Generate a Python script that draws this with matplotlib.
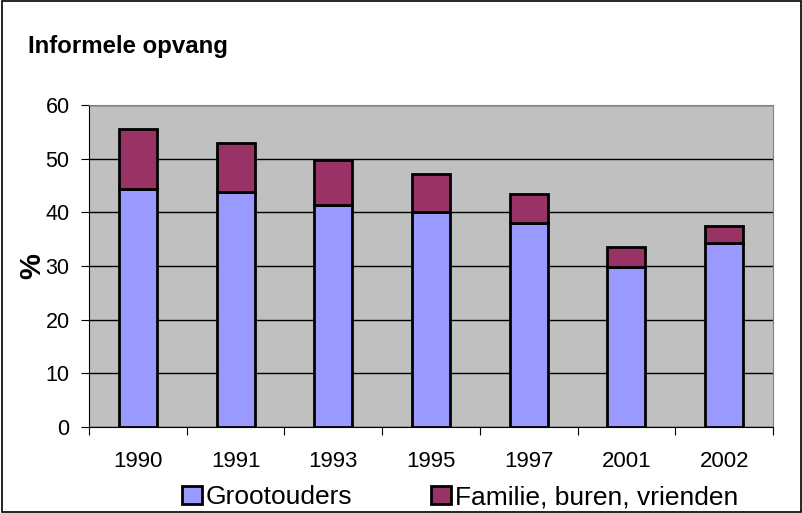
import matplotlib.pyplot as plt
import numpy as np

# Data
jaren = ["1990", "1991", "1993", "1995", "1997", "2001", "2002"]
grootouders = [44.4, 43.7, 41.4, 40.0, 38.0, 29.8, 34.3]
familie = [11.1, 9.2, 8.3, 7.1, 5.5, 3.7, 3.1]
yticks = [0, 10, 20, 30, 40, 50, 60]

plt.rcParams["font.family"] = ["Liberation Sans", "DejaVu Sans"]

fig = plt.figure(figsize=(8.03, 5.13), dpi=100)
fig.patch.set_facecolor("white")
# Figure border
fig.add_artist(plt.Rectangle((0.002, 0.002), 0.996, 0.996, transform=fig.transFigure,
                             fill=False, edgecolor="black", linewidth=1.2))

ax = fig.add_axes([89 / 803, 1 - 427 / 513, (773 - 89) / 803, (427 - 105) / 513])
ax.set_facecolor("#c0c0c0")

x = np.arange(len(jaren))
breedte = 0.39
ax.bar(x, grootouders, breedte, color="#9999ff", edgecolor="black", linewidth=2,
       label="Grootouders", zorder=3)
ax.bar(x, familie, breedte, bottom=grootouders, color="#993366", edgecolor="black",
       linewidth=2, label="Familie, buren, vrienden", zorder=3)

ax.set_xlim(-0.5, len(jaren) - 0.5)
ax.set_ylim(0, 60)
ax.set_yticks(yticks)
ax.set_yticklabels([str(v) for v in yticks], fontsize=15.5)
ax.yaxis.grid(True, color="black", linewidth=1, zorder=1)

# x tick marks between categories, labels centred
ax.set_xticks(np.arange(-0.5, len(jaren) + 0.5, 1))
ax.set_xticklabels([])
ax.set_xticks(x, minor=True)
ax.set_xticklabels(jaren, minor=True, fontsize=16)
ax.tick_params(axis="x", which="minor", length=0, pad=17)
ax.tick_params(axis="x", which="major", length=6, direction="out")
ax.tick_params(axis="y", length=6, direction="out", pad=8)

for kant in ["top", "right"]:
    ax.spines[kant].set_color("#808080")
ax.spines["left"].set_color("black")
ax.spines["bottom"].set_color("black")

# as-label "%"
fig.text(32 / 803, 1 - 266 / 513, "%", fontsize=21, fontweight="bold", rotation=90,
         ha="center", va="center")

fig.text(28 / 803, 1 - 47 / 513, "Informele opvang", fontsize=17.3, fontweight="bold",
         va="center", ha="left")

fig.legend(loc="center", bbox_to_anchor=(460 / 803, 1 - 497 / 513), ncol=2, frameon=False,
           fontsize=19, handlelength=0.75, handleheight=0.7, handletextpad=0.15,
           columnspacing=3.0)

fig.savefig("out.png", dpi=100)
